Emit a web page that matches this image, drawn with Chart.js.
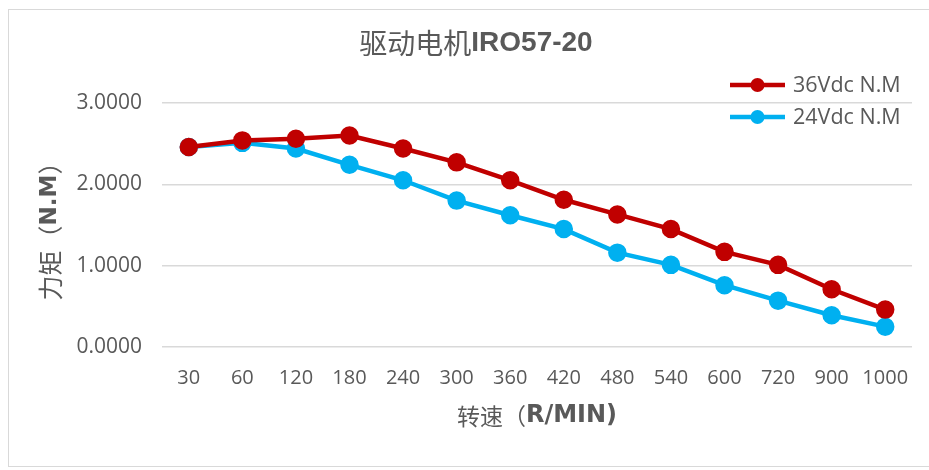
<!DOCTYPE html>
<html lang="zh">
<head>
    <meta charset="UTF-8">
    <title>驱动电机IRO57-20</title>
    <style>
        body { margin: 0; background: #fff; }
        .frame { position: absolute; left: 8px; top: 9px; width: 940px; height: 456px; border: 1px solid #d9d9d9; }
        .wrap { position: absolute; left: 0; top: 0; width: 929px; height: 470px; }
    </style>
</head>
<body>
    <div class="frame"></div>
    <div class="wrap"><canvas id="myChart" width="929" height="470"></canvas></div>

    <script src="https://cdn.jsdelivr.net/npm/chart.js"></script>
    <script>
        // 转速 (R/MIN)
        var speeds = ['30', '60', '120', '180', '240', '300', '360', '420', '480', '540', '600', '720', '900', '1000'];
        // 力矩 N.M
        var torque36 = [2.46, 2.54, 2.56, 2.60, 2.44, 2.27, 2.05, 1.81, 1.63, 1.45, 1.17, 1.01, 0.71, 0.46];
        var torque24 = [2.46, 2.51, 2.44, 2.24, 2.05, 1.80, 1.62, 1.45, 1.16, 1.01, 0.76, 0.57, 0.39, 0.25];
        var seriesNames = ['36Vdc N.M', '24Vdc N.M'];
        var yTicks = [0, 1, 2, 3];

        var cjk = '"Noto Sans CJK SC"';
        var textColor = '#595959';

        // draw a line of text made of parts with different fonts, centred on x,y
        function drawParts(ctx, parts, x, y) {
            var total = 0;
            parts.forEach(function (p) {
                ctx.font = p[1];
                p.w = ctx.measureText(p[0]).width;
                total += p.w;
            });
            var cx = x - total / 2;
            parts.forEach(function (p) {
                ctx.font = p[1];
                ctx.fillText(p[0], cx, y);
                cx += p.w;
            });
        }

        // 标题、轴标题、图例
        var textPlugin = {
            id: 'textPlugin',
            afterDraw: function (chart) {
                var ctx = chart.ctx;
                var area = chart.chartArea;
                ctx.save();
                ctx.fillStyle = textColor;
                ctx.textAlign = 'left';
                ctx.textBaseline = 'middle';

                drawParts(ctx, [['驱动电机', '28px ' + cjk], ['IRO57-20', 'bold 28px "Liberation Sans"']], 476, 43);

                drawParts(ctx, [['转速（', '23px ' + cjk], ['R/MIN)', 'bold 24px "DejaVu Sans"']],
                    (area.left + area.right) / 2, 416);

                ctx.save();
                ctx.translate(50, (area.top + area.bottom) / 2);
                ctx.rotate(-Math.PI / 2);
                drawParts(ctx, [['力矩（', '25px ' + cjk], ['N.M', 'bold 23px "DejaVu Sans"'], ['）', '25px ' + cjk]], 0, 0);
                ctx.restore();

                // legend
                chart.data.datasets.forEach(function (ds, i) {
                    var y = 85 + i * 32;
                    var x0 = area.right - 182;
                    ctx.strokeStyle = ds.borderColor;
                    ctx.lineWidth = ds.borderWidth;
                    ctx.beginPath();
                    ctx.moveTo(x0, y);
                    ctx.lineTo(x0 + 55, y);
                    ctx.stroke();
                    ctx.fillStyle = ds.backgroundColor;
                    ctx.beginPath();
                    ctx.arc(x0 + 27.5, y, ds.pointRadius, 0, Math.PI * 2);
                    ctx.fill();
                    ctx.fillStyle = textColor;
                    ctx.font = '21.5px "Open Sans"';
                    ctx.fillText(ds.label, x0 + 63, y + 1);
                });
                ctx.restore();
            }
        };

        var ctx = document.getElementById('myChart');
        var myChart = new Chart(ctx, {
            type: 'line',
            data: {
                labels: speeds,
                datasets: [{
                    label: seriesNames[0],
                    data: torque36,
                    borderColor: '#C00000',
                    backgroundColor: '#C00000',
                    borderWidth: 4.5,
                    pointRadius: 7,
                    pointHoverRadius: 7,
                    tension: 0
                }, {
                    label: seriesNames[1],
                    data: torque24,
                    borderColor: '#00B0F0',
                    backgroundColor: '#00B0F0',
                    borderWidth: 4.5,
                    pointRadius: 7,
                    pointHoverRadius: 7,
                    tension: 0
                }]
            },
            options: {
                responsive: false,
                animation: false,
                devicePixelRatio: 1,
                layout: { padding: { top: 103, right: 17, bottom: 0, left: 0 } },
                plugins: {
                    legend: { display: false },
                    title: { display: false },
                    tooltip: { enabled: false }
                },
                scales: {
                    x: {
                        offset: true,
                        grid: { display: false, drawTicks: false },
                        border: { display: false },
                        ticks: {
                            color: textColor,
                            padding: 19,
                            maxRotation: 0,
                            autoSkip: false,
                            font: { family: 'Open Sans', size: 20 }
                        },
                        afterFit: function (s) { s.height = 123; }
                    },
                    y: {
                        min: yTicks[0],
                        max: yTicks[yTicks.length - 1],
                        afterBuildTicks: function (s) {
                            s.ticks = yTicks.map(function (v) { return { value: v }; });
                        },
                        grid: { color: '#d9d9d9', lineWidth: 1.5, drawTicks: false },
                        border: { display: false },
                        ticks: {
                            color: textColor,
                            padding: 20,
                            font: { family: 'Open Sans', size: 21 },
                            callback: function (v) { return Number(v).toFixed(4); }
                        },
                        afterFit: function (s) { s.width = 162; }
                    }
                }
            },
            plugins: [textPlugin]
        });
    </script>
</body>
</html>
